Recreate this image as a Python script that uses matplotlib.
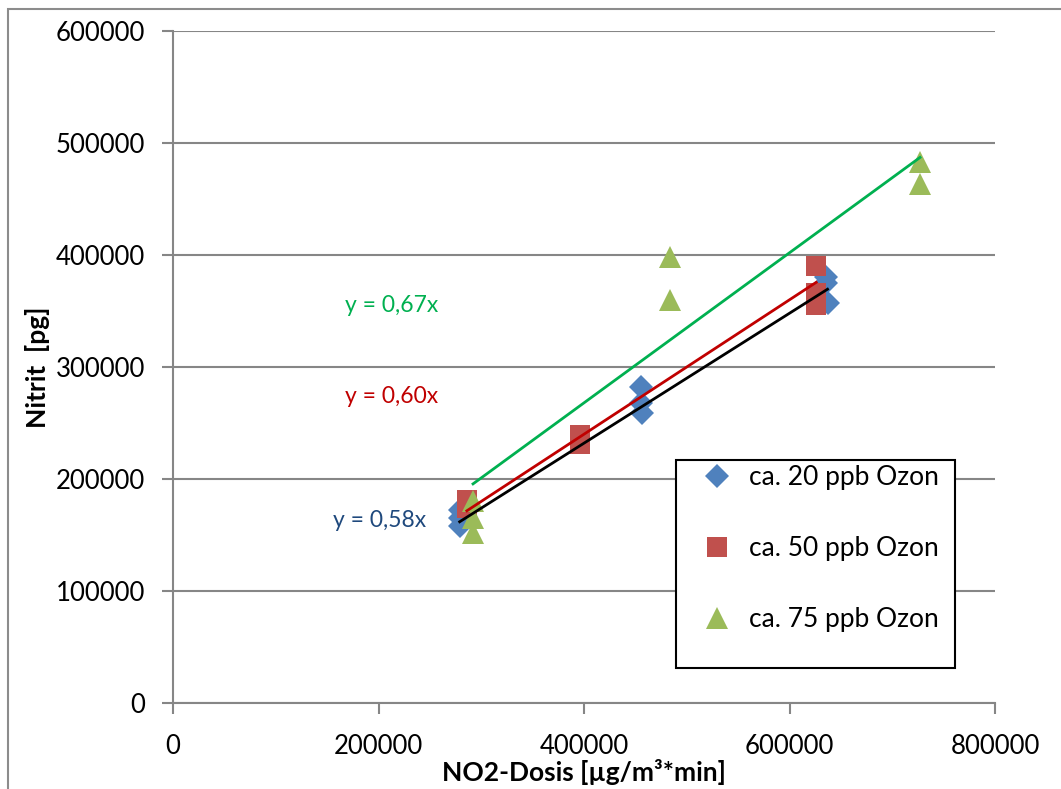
import matplotlib
matplotlib.use("Agg")
import matplotlib.pyplot as plt
from matplotlib.patches import Rectangle
import numpy as np

plt.rcParams['font.family'] = ['Lato', 'DejaVu Sans']

# NO2 dose vs. nitrite for three ozone levels
x_20 = [279000, 279000, 279000, 455000, 455000, 456000, 636000, 636000, 637000]
y_20 = [172000, 165000, 158000, 282000, 268000, 259000, 380000, 375000, 357000]

x_50 = [286000, 286000, 396000, 396000, 626000, 626000, 626000]
y_50 = [181000, 174000, 239000, 231000, 390000, 366000, 355000]

x_75 = [292000, 292000, 292000, 484000, 484000, 727000, 727000]
y_75 = [180000, 165000, 152000, 398000, 360000, 483000, 463000]

labels = ['ca. 20 ppb Ozon', 'ca. 50 ppb Ozon', 'ca. 75 ppb Ozon']
slopes = [0.58, 0.60, 0.67]
eq_pos = [(201000, 163000), (213000, 274000), (213000, 355000)]

marker_cols = ['#4F81BD', '#C0504D', '#9BBB59']
line_cols = ['black', '#C00000', '#00B050']
eq_cols = ['#1F497D', '#C00000', '#00B050']

W, H = 1061, 789
fig = plt.figure(figsize=(W / 100, H / 100), dpi=100)
ax = fig.add_axes([173 / W, 1 - 703 / H, 822 / W, 672 / H])

# outer chart border
fig.patches.append(Rectangle((8 / W, -0.1), 1.2, 1 - 9 / H + 0.1,
                             transform=fig.transFigure, fill=False,
                             edgecolor='#8c8c8c', linewidth=1.5))

gray = '#868686'
ax.set_xlim(0, 800000)
ax.set_ylim(0, 600000)
ax.set_xticks(np.arange(0, 800001, 200000))
ax.set_yticks(np.arange(0, 600001, 100000))
ax.grid(axis='y', color=gray, linewidth=1.5, zorder=0)
ax.set_axisbelow(True)
for s in ['top', 'right']:
    ax.spines[s].set_visible(False)
for s in ['left', 'bottom']:
    ax.spines[s].set_color(gray)
    ax.spines[s].set_linewidth(1.5)
ax.tick_params(direction='out', length=8, width=1.5, color=gray,
               labelsize=18.5, pad=12)
ax.tick_params(axis='x', pad=14)

ax.plot(x_20, y_20, 'D', color=marker_cols[0], ms=12, mew=0, label=labels[0], zorder=3)
ax.plot(x_50, y_50, 's', color=marker_cols[1], ms=15, mew=0, label=labels[1], zorder=3)
ax.plot(x_75, y_75, '^', color=marker_cols[2], ms=16, mew=0, label=labels[2], zorder=3)

# linear fits through origin
for xs, k, c in zip([x_20, x_50, x_75], slopes, line_cols):
    xx = np.array([min(xs), max(xs)])
    ax.plot(xx, k * xx, color=c, linewidth=2, zorder=4)

for (px, py), k, c in zip(eq_pos, slopes, eq_cols):
    ax.text(px, py, 'y = ' + f'{k:.2f}'.replace('.', ',') + 'x',
            color=c, fontsize=16.5, ha='center', va='center')

ax.set_xlabel('NO2-Dosis [µg/m³*min]', fontsize=19, fontweight='bold')
ax.set_ylabel('Nitrit  [pg]', fontsize=19, fontweight='bold')
ax.xaxis.set_label_coords((584 - 173) / 822, (703 - 759) / 672)
ax.yaxis.set_label_coords((50 - 173) / 822, 0.5)

# legend box drawn separately, entries placed inside it
box = Rectangle((676 / W, 1 - 668 / H), 279 / W, 208 / H,
                transform=fig.transFigure, facecolor='white',
                edgecolor='black', linewidth=1.5, zorder=5, clip_on=False)
ax.add_patch(box)
leg = ax.legend(loc='upper left', bbox_to_anchor=(701 / W, 1 - 465 / H),
                bbox_transform=fig.transFigure, fontsize=19, frameon=False,
                labelspacing=1.75, borderpad=0, handletextpad=0.62,
                handlelength=1.2, borderaxespad=0)
leg.set_zorder(6)

fig.savefig('out.png', dpi=100)
